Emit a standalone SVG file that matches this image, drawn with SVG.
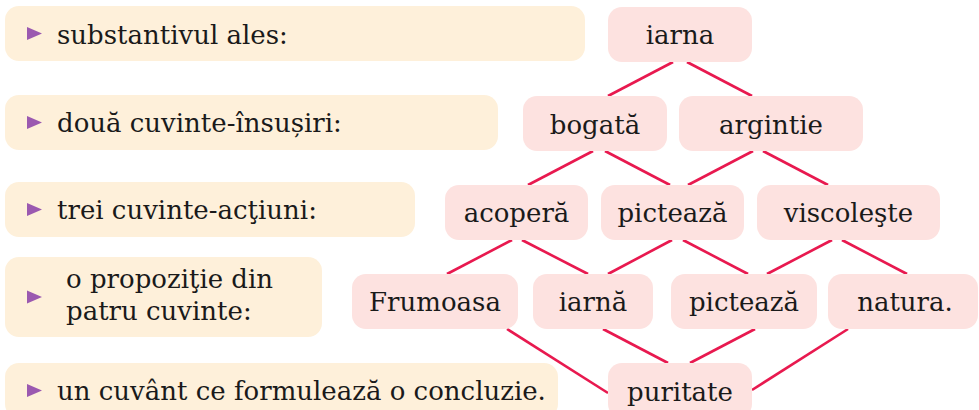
<svg xmlns="http://www.w3.org/2000/svg" width="979" height="410" viewBox="0 0 979 410">
<style>
.task{fill:#FEF0DA}
.node{fill:#FDE2E0}
.tri{fill:#9B59B0}
text{font-family:"DejaVu Serif","Liberation Serif",serif;font-size:26px;fill:#1a1a1a}
.c{text-anchor:middle}
.ln{stroke:#E8194F;stroke-width:2.6;fill:none;stroke-linecap:butt}
</style>
<rect width="979" height="410" fill="#ffffff"/>
<g id="task1"><rect class="task" x="5" y="6" width="580" height="55" rx="14"/><polygon class="tri" points="27,27 42,33.5 27,40"/><text x="57" y="44">substantivul ales:</text></g>
<g id="task2"><rect class="task" x="5" y="95" width="493" height="55" rx="14"/><polygon class="tri" points="27,116 42,122.5 27,129"/><text x="57" y="132">două cuvinte-însușiri:</text></g>
<g id="task3"><rect class="task" x="5" y="182" width="410" height="55" rx="14"/><polygon class="tri" points="27,203 42,209.5 27,216"/><text x="57" y="219">trei cuvinte-acţiuni:</text></g>
<g id="task4"><rect class="task" x="5" y="257" width="317" height="80" rx="14"/><polygon class="tri" points="27,290.5 42,297 27,303.5"/><text x="66" y="288">o propoziţie din</text><text x="66" y="320">patru cuvinte:</text></g>
<g id="task5"><rect class="task" x="5" y="363" width="553" height="55" rx="14"/><polygon class="tri" points="27,384 42,390.5 27,397"/><text x="57" y="400">un cuvânt ce formulează o concluzie.</text></g>
<g id="connectors">
<line class="ln" x1="673" y1="62" x2="608" y2="96"/>
<line class="ln" x1="687" y1="62" x2="752" y2="96"/>
<line class="ln" x1="593" y1="151" x2="528" y2="185"/>
<line class="ln" x1="605" y1="151" x2="670" y2="185"/>
<line class="ln" x1="753" y1="151" x2="688" y2="185"/>
<line class="ln" x1="763" y1="151" x2="828" y2="185"/>
<line class="ln" x1="512" y1="240" x2="447" y2="274"/>
<line class="ln" x1="522" y1="240" x2="588" y2="274"/>
<line class="ln" x1="672" y1="240" x2="608" y2="274"/>
<line class="ln" x1="683" y1="240" x2="748" y2="274"/>
<line class="ln" x1="832" y1="240" x2="767" y2="274"/>
<line class="ln" x1="842" y1="240" x2="907" y2="274"/>
<line class="ln" x1="507" y1="329" x2="608" y2="393"/>
<line class="ln" x1="603" y1="329" x2="668" y2="363"/>
<line class="ln" x1="755" y1="329" x2="690" y2="363"/>
<line class="ln" x1="848" y1="329" x2="752" y2="390"/>
</g>
<g id="n-iarna"><rect class="node" x="608" y="7" width="144" height="55" rx="14"/><text class="c" x="680" y="44">iarna</text></g>
<g id="n-bogata"><rect class="node" x="523" y="96" width="144" height="55" rx="14"/><text class="c" x="595" y="134">bogată</text></g>
<g id="n-argintie"><rect class="node" x="679" y="96" width="184" height="55" rx="14"/><text class="c" x="771" y="134">argintie</text></g>
<g id="n-acopera"><rect class="node" x="445" y="185" width="143" height="55" rx="14"/><text class="c" x="516.5" y="222">acoperă</text></g>
<g id="n-picteaza1"><rect class="node" x="601" y="185" width="143" height="55" rx="14"/><text class="c" x="672.5" y="222">pictează</text></g>
<g id="n-viscoleste"><rect class="node" x="757" y="185" width="183" height="55" rx="14"/><text class="c" x="848.5" y="222">viscoleşte</text></g>
<g id="n-frumoasa"><rect class="node" x="352" y="274" width="166" height="55" rx="14"/><text class="c" x="435" y="311">Frumoasa</text></g>
<g id="n-iarna2"><rect class="node" x="533" y="274" width="120" height="55" rx="14"/><text class="c" x="593" y="311">iarnă</text></g>
<g id="n-picteaza2"><rect class="node" x="671" y="274" width="146" height="55" rx="14"/><text class="c" x="744" y="311">pictează</text></g>
<g id="n-natura"><rect class="node" x="828" y="274" width="150" height="55" rx="14"/><text class="c" x="905" y="311">natura.</text></g>
<g id="n-puritate"><rect class="node" x="608" y="363" width="144" height="55" rx="14"/><text class="c" x="680" y="401">puritate</text></g>
</svg>
